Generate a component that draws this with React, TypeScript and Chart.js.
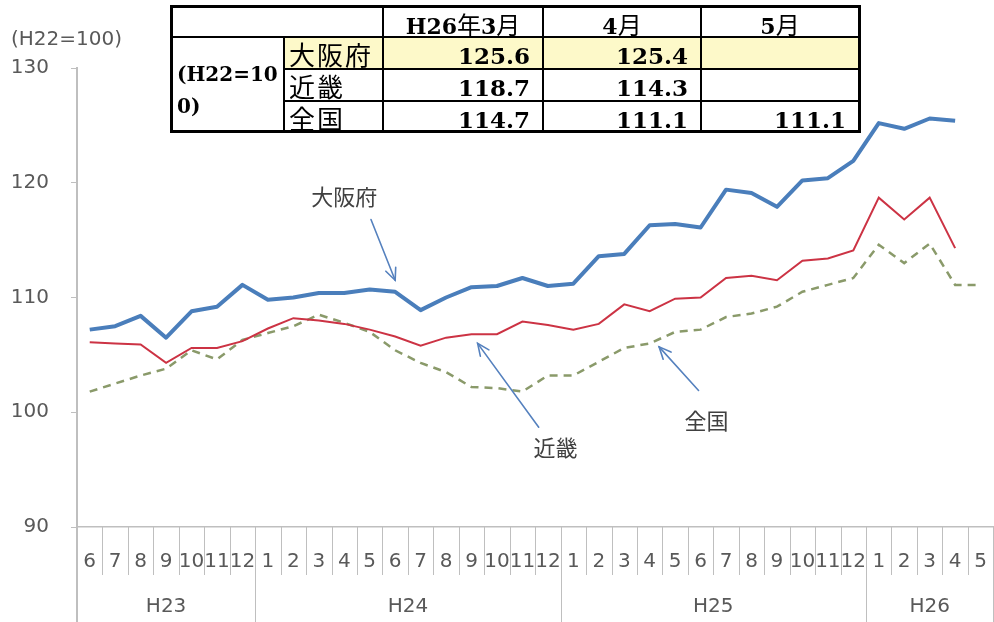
import React, { useEffect, useRef } from 'react';
import { Chart, registerables } from 'chart.js';

Chart.register(...registerables);

// ---- data ----
const monthLabels = [
  '6', '7', '8', '9', '10', '11', '12',
  '1', '2', '3', '4', '5', '6', '7', '8', '9', '10', '11', '12',
  '1', '2', '3', '4', '5', '6', '7', '8', '9', '10', '11', '12',
  '1', '2', '3', '4', '5',
];
const yearLabels = ['H23', 'H24', 'H25', 'H26'];
const yearMonthCounts = [7, 12, 12, 5];

const seriesNames = ['大阪府', '近畿', '全国'];
const osakaValues = [
  107.2, 107.5, 108.4, 106.5, 108.8, 109.2, 111.1,
  109.8, 110.0, 110.4, 110.4, 110.7, 110.5, 108.9, 110.0, 110.9, 111.0, 111.7,
  111.0, 111.2, 113.6, 113.8, 116.3, 116.4, 116.1, 119.4, 119.1, 117.9, 120.2, 120.4, 121.9,
  125.2, 124.7, 125.6, 125.4, null,
];
const kinkiValues = [
  106.1, 106.0, 105.9, 104.3, 105.6, 105.6, 106.2,
  107.3, 108.2, 108.0, 107.7, 107.2, 106.6, 105.8, 106.5, 106.8, 106.8, 107.9,
  107.6, 107.2, 107.7, 109.4, 108.8, 109.9, 110.0, 111.7, 111.9, 111.5, 113.2, 113.4, 114.1,
  118.7, 116.8, 118.7, 114.3, null,
];
const nationalValues = [
  101.8, 102.5, 103.2, 103.8, 105.4, 104.6, 106.3,
  106.9, 107.5, 108.5, 107.8, 107.0, 105.4, 104.3, 103.5, 102.2, 102.1, 101.8,
  103.2, 103.2, 104.4, 105.6, 106.0, 107.0, 107.2, 108.3, 108.6, 109.2, 110.5, 111.1, 111.7,
  114.6, 113.0, 114.7, 111.1, 111.1,
];

const yMin = 90;
const yMax = 130;
const yStep = 10;
const unitLabel = '(H22=100)';

// table
const tableUnitLabel = '(H22=100)';
const tableHeaders = ['H26年3月', '4月', '5月'];
const osakaTable = ['125.6', '125.4', ''];
const kinkiTable = ['118.7', '114.3', ''];
const nationalTable = ['114.7', '111.1', '111.1'];

// annotation anchors in data space: [category index, value]
const arrowTips = [[12.0, 111.5], [15.24, 106.0], [22.37, 105.7]];
const arrowTails = [[11.05, 116.8], [17.64, 98.7], [23.92, 101.9]];
const labelAnchors = [[10.0, 118.8], [18.3, 96.9], [24.23, 99.3]];

// ---- styles ----
const TICK_FONT = '"DejaVu Sans", sans-serif';
const GRAY_TEXT = '#595959';
const AXIS_GRAY = '#BFBFBF';

const overlayPlugin = {
  id: 'overlay',
  afterDraw(chart: any) {
    const { ctx, chartArea, scales } = chart;
    const x = scales.x;
    const y = scales.y;
    const bottom = chartArea.bottom;
    ctx.save();

    // unit label above axis
    ctx.fillStyle = GRAY_TEXT;
    ctx.font = `20px ${TICK_FONT}`;
    ctx.textAlign = 'left';
    ctx.textBaseline = 'middle';
    ctx.fillText(unitLabel, 11, chartArea.top - 28);

    // category separators
    const yearStarts = new Set<number>();
    let acc = 0;
    yearStarts.add(0);
    yearMonthCounts.forEach((c) => { acc += c; yearStarts.add(acc); });
    for (let i = 0; i <= monthLabels.length; i++) {
      const isYear = yearStarts.has(i);
      const px = i === 0 ? chartArea.left : Math.round(x.getPixelForValue(i - 0.5)) + 0.5;
      ctx.strokeStyle = AXIS_GRAY;
      ctx.lineWidth = i === 0 ? 2 : 1;
      ctx.beginPath();
      ctx.moveTo(px, bottom);
      ctx.lineTo(px, isYear ? chart.height : bottom + 48);
      ctx.stroke();
    }

    // year labels
    ctx.fillStyle = GRAY_TEXT;
    ctx.font = `20px ${TICK_FONT}`;
    ctx.textAlign = 'center';
    ctx.textBaseline = 'middle';
    acc = 0;
    yearLabels.forEach((lab, k) => {
      const a = x.getPixelForValue(acc - 0.5);
      const b = x.getPixelForValue(acc + yearMonthCounts[k] - 0.5);
      ctx.fillText(lab, (a + b) / 2, bottom + 80);
      acc += yearMonthCounts[k];
    });

    // annotations
    seriesNames.forEach((name, k) => {
      const tx = x.getPixelForValue(arrowTips[k][0]);
      const ty = y.getPixelForValue(arrowTips[k][1]);
      const sx = x.getPixelForValue(arrowTails[k][0]);
      const sy = y.getPixelForValue(arrowTails[k][1]);
      ctx.strokeStyle = '#5581BE';
      ctx.lineWidth = 1.6;
      ctx.lineCap = 'round';
      ctx.beginPath();
      ctx.moveTo(sx, sy);
      ctx.lineTo(tx, ty);
      ctx.stroke();
      const ang = Math.atan2(ty - sy, tx - sx);
      const L = 13;
      const spread = 0.42;
      ctx.beginPath();
      ctx.moveTo(tx - L * Math.cos(ang - spread), ty - L * Math.sin(ang - spread));
      ctx.lineTo(tx, ty);
      ctx.lineTo(tx - L * Math.cos(ang + spread), ty - L * Math.sin(ang + spread));
      ctx.stroke();

      ctx.fillStyle = '#404040';
      ctx.font = '22px "Noto Sans CJK JP", sans-serif';
      ctx.textAlign = 'center';
      ctx.textBaseline = 'middle';
      ctx.fillText(name, x.getPixelForValue(labelAnchors[k][0]), y.getPixelForValue(labelAnchors[k][1]));
    });

    ctx.restore();
  },
};

const SERIF = '"DejaVu Serif", "Liberation Serif", "Noto Sans CJK JP", serif';
const CJK = '"Noto Sans CJK JP", sans-serif';

function HeaderText({ text }: { text: string }) {
  const parts = text.split(/([年月])/).filter((p) => p !== '');
  return (
    <span>
      {parts.map((p, i) =>
        /[年月]/.test(p) ? (
          <span key={i} style={{ fontFamily: CJK, fontWeight: 400, fontSize: 24 }}>{p}</span>
        ) : (
          <span key={i}>{p}</span>
        ),
      )}
    </span>
  );
}

function DataTable() {
  const rows = [
    { name: seriesNames[0], vals: osakaTable, bg: '#FDF9C9' },
    { name: seriesNames[1], vals: kinkiTable, bg: '#FFFFFF' },
    { name: seriesNames[2], vals: nationalTable, bg: '#FFFFFF' },
  ];
  const cellBase: React.CSSProperties = { background: '#FFFFFF', overflow: 'visible', boxSizing: 'border-box' };
  return (
    <div
      style={{
        position: 'absolute',
        left: 170,
        top: 5,
        display: 'grid',
        gridTemplateColumns: '110px 97px 158px 156px 156px',
        gridTemplateRows: '28px 30px 30px 28px',
        gap: 2,
        padding: 3,
        background: '#000000',
        color: '#000000',
      }}
    >
      <div style={{ ...cellBase, gridColumn: '1 / 3', gridRow: '1' }} />
      {tableHeaders.map((h, i) => (
        <div
          key={'h' + i}
          style={{
            ...cellBase,
            gridRow: '1',
            gridColumn: String(3 + i),
            fontFamily: SERIF,
            fontWeight: 700,
            fontSize: 22,
            lineHeight: '28px',
            paddingTop: 2,
            textAlign: 'center',
            whiteSpace: 'nowrap',
          }}
        >
          <HeaderText text={h} />
        </div>
      ))}
      <div
        style={{
          ...cellBase,
          gridColumn: '1',
          gridRow: '2 / 5',
          fontFamily: SERIF,
          fontWeight: 700,
          fontSize: 20,
          lineHeight: '32px',
          paddingLeft: 4,
          paddingTop: 20,
          wordBreak: 'break-all',
        }}
      >
        {tableUnitLabel}
      </div>
      {rows.map((r, ri) => (
        <React.Fragment key={'r' + ri}>
          <div
            style={{
              ...cellBase,
              background: r.bg,
              gridRow: String(2 + ri),
              gridColumn: '2',
              fontFamily: CJK,
              fontSize: 26,
              letterSpacing: 2,
              lineHeight: '30px',
              paddingLeft: 4,
              paddingTop: 1,
              whiteSpace: 'nowrap',
            }}
          >
            {r.name}
          </div>
          {r.vals.map((v, vi) => (
            <div
              key={'v' + vi}
              style={{
                ...cellBase,
                background: r.bg,
                gridRow: String(2 + ri),
                gridColumn: String(3 + vi),
                fontFamily: SERIF,
                fontWeight: 700,
                fontSize: 23,
                lineHeight: '30px',
                paddingTop: 3,
                paddingRight: 12,
                textAlign: 'right',
              }}
            >
              {v}
            </div>
          ))}
        </React.Fragment>
      ))}
    </div>
  );
}

export default function App() {
  const canvasRef = useRef<HTMLCanvasElement>(null);

  useEffect(() => {
    if (!canvasRef.current) return;
    const chart = new Chart(canvasRef.current, {
      type: 'line',
      data: {
        labels: monthLabels,
        datasets: [
          {
            label: seriesNames[0],
            data: osakaValues,
            borderColor: '#4A7EBB',
            borderWidth: 4,
            pointRadius: 0,
            tension: 0,
            borderJoinStyle: 'round',
            spanGaps: false,
          },
          {
            label: seriesNames[1],
            data: kinkiValues,
            borderColor: '#CC3344',
            borderWidth: 2,
            pointRadius: 0,
            tension: 0,
          },
          {
            label: seriesNames[2],
            data: nationalValues,
            borderColor: '#8A9A6A',
            borderWidth: 2.5,
            borderDash: [8, 6],
            pointRadius: 0,
            tension: 0,
          },
        ],
      },
      options: {
        animation: false,
        responsive: false,
        devicePixelRatio: 1,
        layout: { padding: { top: 68, right: 4, left: 0, bottom: 0 } },
        plugins: { legend: { display: false }, tooltip: { enabled: false } },
        scales: {
          x: {
            offset: true,
            grid: { display: false, drawTicks: false },
            border: { display: true, color: AXIS_GRAY, width: 1.5 },
            ticks: {
              autoSkip: false,
              maxRotation: 0,
              minRotation: 0,
              padding: 23,
              color: GRAY_TEXT,
              font: { family: TICK_FONT, size: 20 },
            },
            afterFit: (s: any) => { s.height = 95; },
          },
          y: {
            min: yMin,
            max: yMax,
            ticks: {
              stepSize: yStep,
              padding: 22,
              color: GRAY_TEXT,
              font: { family: TICK_FONT, size: 20 },
            },
            grid: { drawOnChartArea: false, drawTicks: true, tickLength: 6, color: AXIS_GRAY },
            border: { display: true, color: AXIS_GRAY, width: 2 },
            afterFit: (s: any) => { s.width = 77; },
          },
        },
      } as any,
      plugins: [overlayPlugin],
    });
    return () => chart.destroy();
  }, []);

  return (
    <div
      style={{
        position: 'fixed',
        left: 0,
        top: 0,
        width: 994,
        height: 622,
        overflow: 'hidden',
        background: '#FFFFFF',
      }}
    >
      <canvas
        ref={canvasRef}
        width={1010}
        height={622}
        style={{ position: 'absolute', left: 0, top: 0, width: 1010, height: 622 }}
      />
      <DataTable />
    </div>
  );
}
